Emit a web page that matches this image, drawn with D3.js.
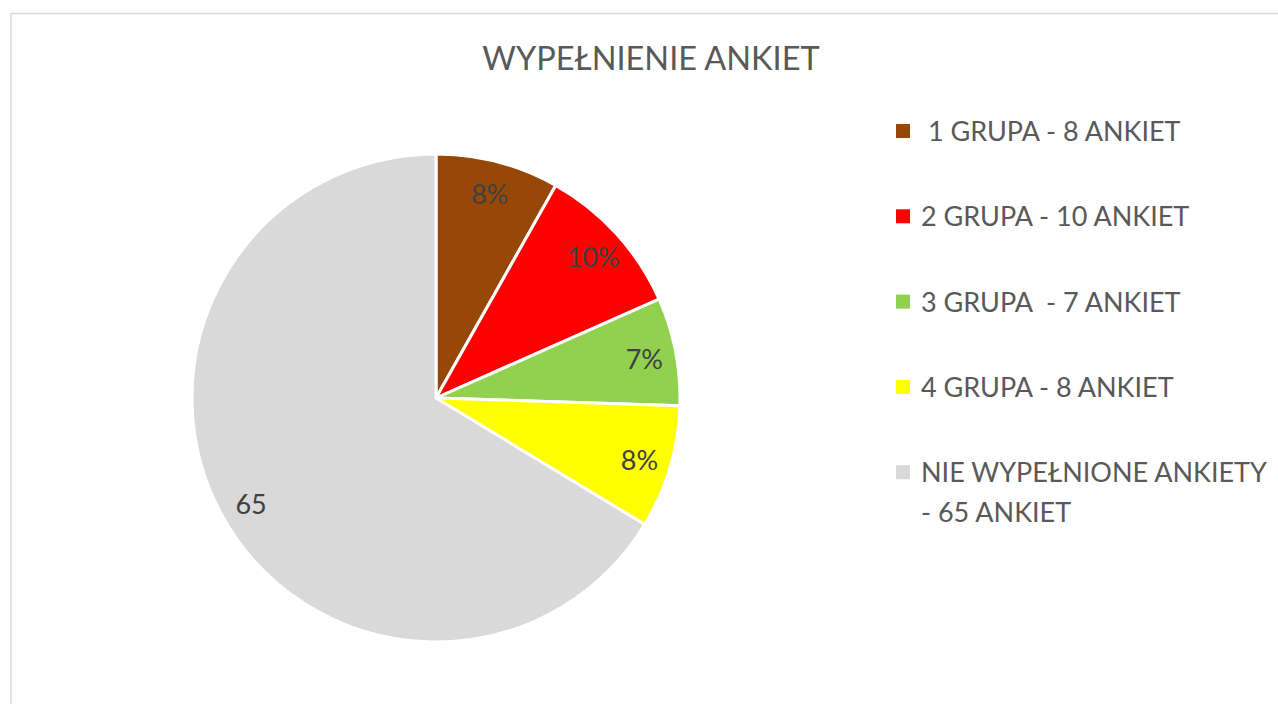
<!DOCTYPE html>
<html>
<head>
<meta charset="utf-8">
<script src="https://cdn.jsdelivr.net/npm/d3@7"></script>
<style>
  body { margin: 0; background: #fff; }
  text { font-family: Lato, "Open Sans", sans-serif; }
</style>
</head>
<body>
<div id="chart"></div>
<script>
// chart data
var categories = ["1 GRUPA - 8 ANKIET", "2 GRUPA - 10 ANKIET", "3 GRUPA  - 7 ANKIET", "4 GRUPA - 8 ANKIET", "NIE WYPEŁNIONE ANKIETY - 65 ANKIET"];
var legendLines = [[" 1 GRUPA - 8 ANKIET"], ["2 GRUPA - 10 ANKIET"], ["3 GRUPA  - 7 ANKIET"], ["4 GRUPA - 8 ANKIET"], ["NIE WYPEŁNIONE ANKIETY", "- 65 ANKIET"]];
var values = [8, 10, 7, 8, 65];
var colors = ["#974806", "#FF0000", "#92D050", "#FFFF00", "#D9D9D9"];
var title = "WYPEŁNIENIE ANKIET";

var W = 1278, H = 704;
var svg = d3.select("#chart").append("svg").attr("width", W).attr("height", H);

// chart area border (only top/left visible)
svg.append("rect")
  .attr("x", 11).attr("y", 13.5)
  .attr("width", 1400).attr("height", 900)
  .attr("fill", "none")
  .attr("stroke", "#d9d9d9")
  .attr("stroke-width", 1.5);

svg.append("text")
  .attr("x", 651).attr("y", 70)
  .attr("text-anchor", "middle")
  .attr("style", "font-size:32.5px;fill:#595959")
  .text(title);

var cx = 436, cy = 398, r = 244;
var total = d3.sum(values);
var pie = d3.pie().sort(null).value(function(d) { return d; });
var arc = d3.arc().innerRadius(0).outerRadius(r);
var labelArc = d3.arc().innerRadius(r * 0.87).outerRadius(r * 0.87);

var g = svg.append("g").attr("transform", "translate(" + cx + "," + cy + ")");
var slices = pie(values);

g.selectAll("path").data(slices).enter().append("path")
  .attr("d", arc)
  .attr("fill", function(d, i) { return colors[i]; })
  .attr("stroke", "#fff")
  .attr("stroke-width", 3)
  .attr("stroke-linejoin", "round");

g.selectAll("text.lbl").data(slices).enter().append("text")
  .attr("class", "lbl")
  .attr("transform", function(d) { return "translate(" + labelArc.centroid(d) + ")"; })
  .attr("text-anchor", "middle")
  .attr("dy", "0.42em")
  .attr("style", "font-size:27px;fill:#404040")
  .text(function(d, i) {
    return i === values.length - 1 ? d.value : d3.format(".0%")(d.value / total);
  });

// legend
var legend = svg.append("g").attr("transform", "translate(896,0)");
var rowY = d3.scaleLinear().domain([0, 1]).range([131, 216.3]);
categories.forEach(function(c, i) {
  var y = rowY(i);
  legend.append("rect")
    .attr("x", 0).attr("y", y - 7)
    .attr("width", 14).attr("height", 14)
    .attr("fill", colors[i]);
  legendLines[i].forEach(function(line, j) {
    legend.append("text")
      .attr("x", 25).attr("y", y + 10 + j * 40)
      .attr("xml:space", "preserve")
      .attr("style", "font-size:27px;fill:#595959;white-space:pre")
      .text(line);
  });
});
</script>
</body>
</html>
